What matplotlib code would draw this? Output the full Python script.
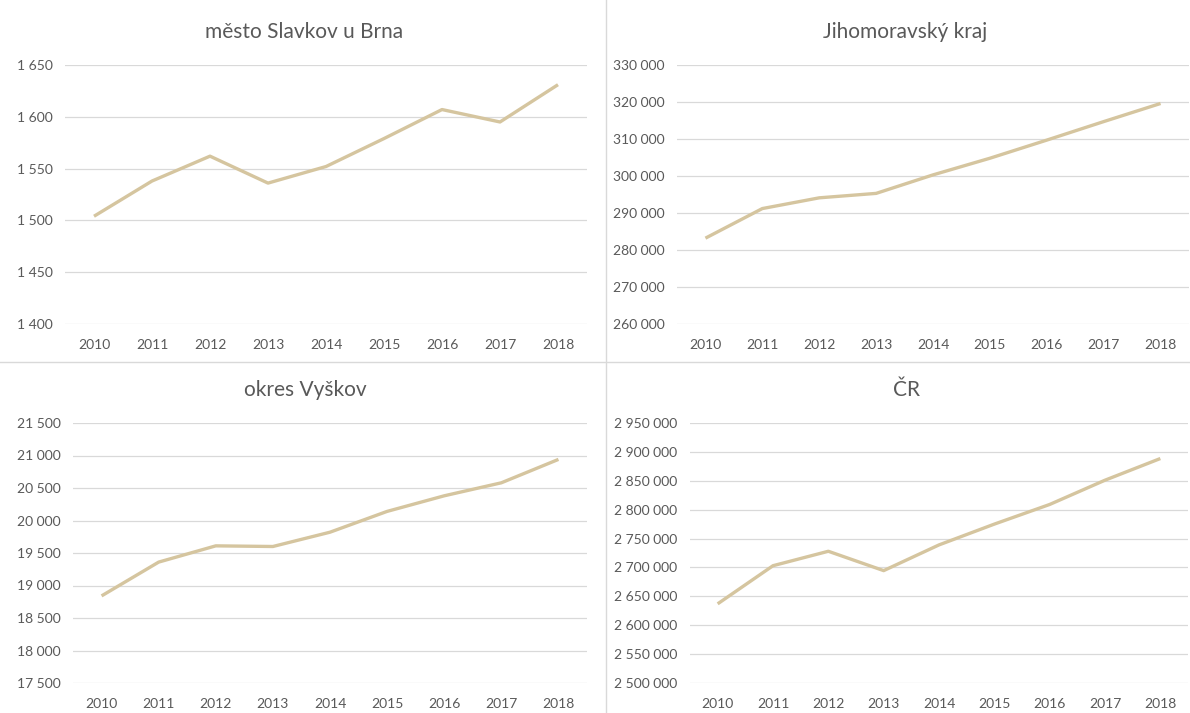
import matplotlib.pyplot as plt
from matplotlib.ticker import FuncFormatter, MultipleLocator

# roky a hodnoty
years = ['2010', '2011', '2012', '2013', '2014', '2015', '2016', '2017', '2018']

slavkov = [1504, 1538, 1562, 1536, 1552, 1579, 1607, 1595, 1631]
jmk = [283200, 291200, 294100, 295300, 300300, 304800, 309700, 314700, 319600]
vyskov = [18840, 19360, 19610, 19600, 19820, 20140, 20380, 20580, 20940]
cr = [2637000, 2703000, 2728000, 2694500, 2739000, 2775000, 2809000, 2851000, 2888500]

titles = ['město Slavkov u Brna', 'Jihomoravský kraj', 'okres Vyškov', 'ČR']

plt.rcParams['font.family'] = ['Lato', 'DejaVu Sans']

W, H = 1190, 713
fig = plt.figure(figsize=(W / 100, H / 100), dpi=100)

line_color = '#d5c59f'
grid_color = '#d9d9d9'
text_color = '#595959'


def space_thousands(v, pos):
    return f'{v:,.0f}'.replace(',', ' ')


def panel(box, values, ylim, step, title, title_xy):
    left, top, right, bottom = box
    ax = fig.add_axes([left / W, 1 - bottom / H, (right - left) / W, (bottom - top) / H])
    ax.plot(range(len(years)), values, color=line_color, lw=2.4, solid_capstyle='butt')
    ax.set_xlim(-0.5, len(years) - 0.5)
    ax.set_ylim(*ylim)
    ax.set_xticks(range(len(years)))
    ax.set_xticklabels(years)
    ax.yaxis.set_major_locator(MultipleLocator(step))
    ax.yaxis.set_major_formatter(FuncFormatter(space_thousands))
    ax.grid(axis='y', color=grid_color, lw=0.9)
    ax.set_axisbelow(True)
    for s in ax.spines.values():
        s.set_visible(False)
    ax.tick_params(length=0, labelsize=10, labelcolor=text_color, pad=9)
    ax.tick_params(axis='x', pad=11)
    fig.text(title_xy[0] / W, 1 - title_xy[1] / H, title, ha='center', va='center',
             fontsize=15, color=text_color)
    return ax


panel((65, 65, 587, 324), slavkov, (1400, 1650), 50, titles[0], (304, 32))
panel((677, 65, 1189, 324), jmk, (260000, 330000), 10000, titles[1], (905, 32))
panel((73, 423, 587, 683), vyskov, (17500, 21500), 500, titles[2], (305, 390))
panel((690, 423, 1188, 683), cr, (2500000, 2950000), 50000, titles[3], (906, 390))

# oddělovací čáry mezi grafy
fig.add_artist(plt.Line2D([606 / W, 606 / W], [0, 1], color=grid_color, lw=1))
fig.add_artist(plt.Line2D([0, 1], [1 - 362 / H, 1 - 362 / H], color=grid_color, lw=1))

fig.savefig('out.png', dpi=100)
